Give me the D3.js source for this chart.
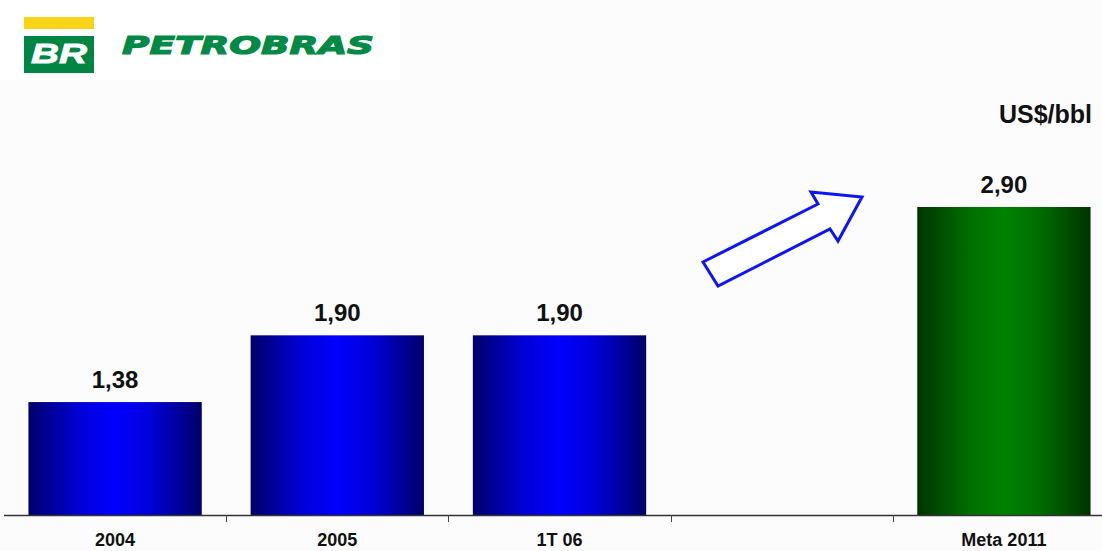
<!DOCTYPE html>
<html>
<head>
<meta charset="utf-8">
<script src="https://cdn.jsdelivr.net/npm/d3@7"></script>
<style>
  html, body { margin: 0; padding: 0; background: #fcfcfc; }
  svg { display: block; }
</style>
</head>
<body>
<svg id="chart" width="1102" height="551"></svg>
<script>
// ---- data ----
const categories = ["2004", "2005", "1T 06", "", "Meta 2011"];
const values = [1.38, 1.90, 1.90, null, 2.90];
const valueLabels = ["1,38", "1,90", "1,90", "", "2,90"];
const barKinds = ["actual", "actual", "actual", "none", "target"];
const unitLabel = "US$/bbl";
const brandName = "PETROBRAS";
const brandMark = "BR";

const W = 1102, H = 551;
const svg = d3.select("#chart");

// gradients
const defs = svg.append("defs");
function hGrad(id, edge, near, mid) {
  const g = defs.append("linearGradient").attr("id", id)
    .attr("x1", "0%").attr("x2", "100%").attr("y1", "0%").attr("y2", "0%");
  [[0, edge], [30, near], [50, mid], [70, near], [100, edge]].forEach(([o, c]) =>
    g.append("stop").attr("offset", o + "%").attr("stop-color", c));
}
hGrad("gBlue", "#00006a", "#0000d8", "#0000ff");
hGrad("gGreen", "#003400", "#006e00", "#008200");

// logo area
svg.append("rect").attr("x", 0).attr("y", 0).attr("width", 400).attr("height", 80).attr("fill", "#ffffff");
svg.append("rect").attr("x", 24).attr("y", 17).attr("width", 70).attr("height", 12).attr("fill", "#f7d418");
svg.append("rect").attr("x", 24).attr("y", 36).attr("width", 70).attr("height", 37).attr("fill", "#008542");
svg.append("text").attr("x", 59).attr("y", 63)
  .attr("text-anchor", "middle")
  .attr("font-family", "Liberation Sans, Arial, sans-serif")
  .attr("font-weight", "bold").attr("font-style", "italic")
  .attr("font-size", 27).attr("fill", "#ffffff")
  .attr("stroke", "#ffffff").attr("stroke-width", 0.8)
  .attr("textLength", 56).attr("lengthAdjust", "spacingAndGlyphs")
  .text(brandMark);
svg.append("text").attr("x", 122).attr("y", 54)
  .attr("font-family", "DejaVu Sans, Liberation Sans, sans-serif")
  .attr("font-weight", "bold").attr("font-style", "italic")
  .attr("font-size", 25).attr("fill", "#008a45")
  .attr("stroke", "#008a45").attr("stroke-width", 1.2)
  .attr("textLength", 252).attr("lengthAdjust", "spacingAndGlyphs")
  .text(brandName);

// scales
const x = d3.scaleBand().domain(categories).range([4, 1115])
  .paddingInner(0.22).paddingOuter(0.11);
const y = d3.scaleLinear().domain([0.5, 2.9]).range([515, 207]);

// bars
const data = categories.map((c, i) => ({ c, v: values[i], label: valueLabels[i], kind: barKinds[i] }))
  .filter(d => d.v != null);

svg.append("g").selectAll("rect").data(data).join("rect")
  .attr("x", d => x(d.c))
  .attr("width", x.bandwidth())
  .attr("y", d => y(d.v))
  .attr("height", d => y(0.5) - y(d.v))
  .attr("fill", d => d.kind === "target" ? "url(#gGreen)" : "url(#gBlue)");

svg.append("g").selectAll("text").data(data).join("text")
  .attr("x", d => x(d.c) + x.bandwidth() / 2)
  .attr("y", d => y(d.v) - 14)
  .attr("text-anchor", "middle")
  .attr("font-family", "Liberation Sans, Arial, sans-serif")
  .attr("font-weight", "bold").attr("font-size", 24).attr("fill", "#111")
  .text(d => d.label);

// axis
const axisG = svg.append("g");
axisG.append("line").attr("x1", 4).attr("x2", W).attr("y1", 515.5).attr("y2", 515.5)
  .attr("stroke", "#333").attr("stroke-width", 1.5);
const step = x.step();
const boundaries = categories.slice(1).map(c => x(c) - x.paddingInner() * step / 2);
axisG.selectAll("line.tick").data(boundaries).join("line").attr("class", "tick")
  .attr("x1", d => Math.round(d) + 0.5).attr("x2", d => Math.round(d) + 0.5)
  .attr("y1", 515).attr("y2", 522).attr("stroke", "#444").attr("stroke-width", 1);
axisG.selectAll("text").data(categories).join("text")
  .attr("x", d => x(d) + x.bandwidth() / 2)
  .attr("y", 546)
  .attr("text-anchor", "middle")
  .attr("font-family", "Liberation Sans, Arial, sans-serif")
  .attr("font-weight", "bold").attr("font-size", 18).attr("fill", "#111")
  .text(d => d);

// unit label
svg.append("text").attr("x", 1092).attr("y", 123)
  .attr("text-anchor", "end")
  .attr("font-family", "Liberation Sans, Arial, sans-serif")
  .attr("font-weight", "bold").attr("font-size", 25).attr("fill", "#111")
  .text(unitLabel);

// decorative arrow
const arrowPts = [[703, 262], [718, 286], [830, 229], [838, 241], [862, 197], [811, 192], [818, 204]];
svg.append("path")
  .attr("d", d3.line()(arrowPts) + "Z")
  .attr("fill", "#ffffff").attr("stroke", "#0a14ff").attr("stroke-width", 3)
  .attr("stroke-linejoin", "miter");
</script>
</body>
</html>
